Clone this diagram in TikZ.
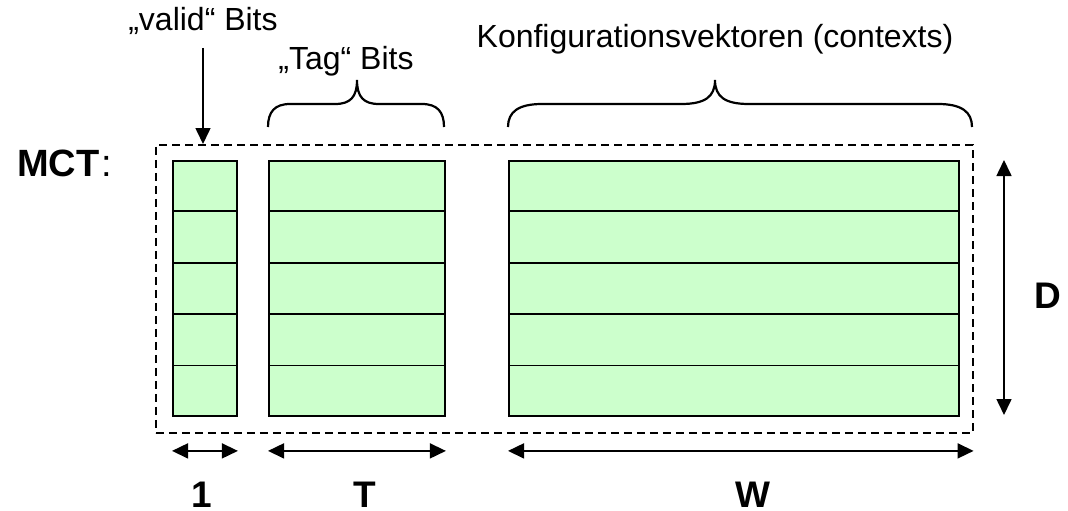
\documentclass[tikz,border=0pt]{standalone}
\usepackage{fontspec}
\setmainfont{Liberation Sans}
\usetikzlibrary{arrows.meta,calc}

\definecolor{cellgreen}{HTML}{CCFFCC}

% curly brace opening downwards: left x, cusp x, right x, curve radius
\newcommand\topbrace[4]{%
  \draw[bracepen] (#1,127) .. controls (#1,112) and ({#1+0.3*#4},104) .. ({#1+#4},104)
    -- ({#2-#4},104) .. controls ({#2-0.3*#4},104) and (#2,97) .. (#2,80)
    .. controls (#2,97) and ({#2+0.3*#4},104) .. ({#2+#4},104)
    -- ({#3-#4},104) .. controls ({#3-0.3*#4},104) and (#3,112) .. (#3,127);}

\begin{document}
\begin{tikzpicture}[x=1pt,y=-1pt,
  cell/.style={draw, fill=cellgreen, line width=1.9pt, minimum height=255pt,
    inner sep=0pt, anchor=north west},
  rowline/.style={line width=1.9pt},
  frame/.style={draw, line width=1.6pt, dash pattern=on 8pt off 5pt,
    inner sep=0pt, anchor=north west},
  lbl/.style={inner sep=0pt, anchor=base, font=\fontsize{32}{36}\selectfont},
  big/.style={inner sep=0pt, anchor=base, font=\fontsize{37}{40}\selectfont\bfseries},
  arrowpen/.style={line width=1.6pt, -{Triangle[length=16pt,width=15pt]}},
  dimpen/.style={line width=1.6pt, {Triangle[length=16pt,width=15pt]}-{Triangle[length=16pt,width=15pt]}},
  bracepen/.style={line width=2.2pt},
]
\useasboundingbox (0,0) rectangle (1068,511);

% table columns
\node[cell, minimum width=64pt]  (vcol) at (172,160) {};
\node[cell, minimum width=176pt] (tcol) at (268,160) {};
\node[cell, minimum width=450pt] (wcol) at (508,160) {};
\foreach \c in {vcol,tcol,wcol}
  \foreach \f in {0.2,0.4,0.6,0.8}
    \draw[rowline] ($(\c.north west)!\f!(\c.south west)$) -- ($(\c.north east)!\f!(\c.south east)$);

% dashed outline of the table
\node[frame, minimum width=817pt, minimum height=288pt] (frame) at (155,144) {};

% headings
\node[big, anchor=base west, font=\fontsize{38}{40}\selectfont\bfseries] (mct) at (17,176) {MCT\kern1.5pt\textmd{:}};
\node[lbl] (valid) at (203,31) {„valid“ Bits};
\node[lbl] (tag) at (346,70) {„Tag“ Bits};
\node[lbl] (konf) at (715,48) {Konfigurationsvektoren (contexts)};

\coordinate (vtail) at (203,48);
\draw[arrowpen] (vtail) -- (vtail |- frame.north);

\topbrace{268}{357}{444}{22}
\topbrace{508}{715}{972}{34}

% dimensions
\coordinate (vl) at ($(vcol.south west)+(0,34)$);
\coordinate (vr) at ($(vcol.south east)+(0,34)$);
\coordinate (tl) at ($(tcol.south west)+(0,34)$);
\coordinate (tr) at ($(tcol.south east)+(0,34)$);
\coordinate (wl) at ($(wcol.south west)+(0,34)$);
\coordinate (wr) at (wl -| frame.east);
\draw[dimpen] (vl) -- (vr);
\draw[dimpen] (tl) -- (tr);
\draw[dimpen] (wl) -- (wr);
\coordinate (dtop) at (1004,160);
\coordinate (dbot) at (1004,415);
\draw[dimpen] (dtop) -- (dbot);

\node[big] (one) at (202,507) {1};
\node[big] (t) at (365,507) {T};
\node[big] (w) at (753,507) {W};
\node[big] (d) at (1048,308) {D};
\end{tikzpicture}
\end{document}
